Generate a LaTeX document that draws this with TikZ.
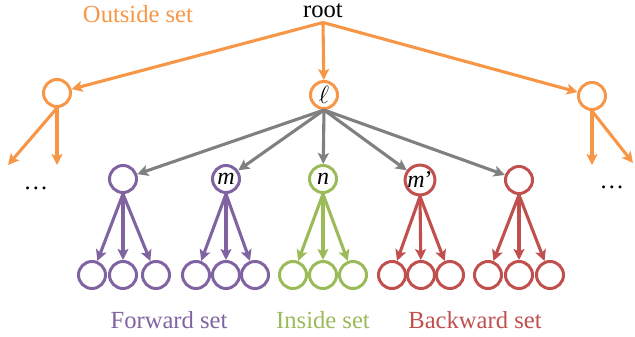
\documentclass[tikz,border=0pt]{standalone}
\usepackage{fontspec}
\setmainfont{Liberation Serif}
\usetikzlibrary{arrows.meta}
\definecolor{cOrange}{HTML}{F79646}
\definecolor{cPurple}{HTML}{8064A2}
\definecolor{cGreen}{HTML}{9BBB59}
\definecolor{cRed}{HTML}{C0504D}
\definecolor{cGray}{HTML}{808080}
\begin{document}
\begin{tikzpicture}[x=1pt,y=-1pt,
  big/.style={font=\fontsize{24.6}{28}\selectfont, inner sep=0pt, anchor=base},
  vtx/.style={circle, draw, line width=3pt, minimum size=27pt, inner sep=0pt,
    font=\fontsize{24}{26}\selectfont},
  edge/.style={line width=3.1pt, -{Stealth[length=11pt,width=11pt,inset=2.5pt]}},
]
\useasboundingbox (0,0) rectangle (635,337);

% top labels
\node[big] (root) at (323,18) {root};
\coordinate (rp) at (323,22.5);
\node[big, text=cOrange] (outlab) at (138,23) {Outside set};

% first level
\node[vtx, draw=cOrange] (o1) at (57,93) {};
\node[vtx, draw=cOrange] (l) at (324,95) {$\ell$};
\node[vtx, draw=cOrange] (o2) at (592,96) {};
\coordinate (ol1) at (8,165);
\coordinate (ol2) at (57,165);
\coordinate (or1) at (592,165);
\coordinate (or2) at (633,163);
\node[big] (dl) at (36,189) {…};
\node[big] (dr) at (612,188) {…};

\foreach \t in {o1,l,o2} \draw[edge, cOrange] (rp) -- (\t);
\draw[edge, cOrange] (o1.south) -- (ol1);
\draw[edge, cOrange] (o1.south) -- (ol2);
\draw[edge, cOrange] (o2.south) -- (or1);
\draw[edge, cOrange] (o2.south) -- (or2);

% second level
\node[vtx, draw=cPurple] (a) at (123,179) {};
\node[vtx, draw=cPurple] (m) at (226,179) {\textit{m}};
\node[vtx, draw=cGreen] (n) at (323,179) {\textit{n}};
\node[vtx, draw=cRed] (mp) at (420,180) {\textit{m}'};
\node[vtx, draw=cRed] (b) at (519,180) {};
\foreach \t in {a,m,n,mp,b} \draw[edge, cGray] (l.south) -- (\t);

% third level
\foreach \p/\c/\xa/\xb/\xc in {a/cPurple/92/123/156, m/cPurple/196/226/255,
    n/cGreen/293/323/353, mp/cRed/392/421/450, b/cRed/488/519/550}{
  \node[vtx, draw=\c] (\p-1) at (\xa,275) {};
  \node[vtx, draw=\c] (\p-2) at (\xb,275) {};
  \node[vtx, draw=\c] (\p-3) at (\xc,275) {};
  \foreach \k in {1,2,3} \draw[edge, \c] (\p.south) -- (\p-\k);
}

% set labels
\node[big, text=cPurple] (fwd) at (169,328) {Forward set};
\node[big, text=cGreen] (ins) at (323,328) {Inside set};
\node[big, text=cRed] (bwd) at (475,328) {Backward set};
\end{tikzpicture}
\end{document}
